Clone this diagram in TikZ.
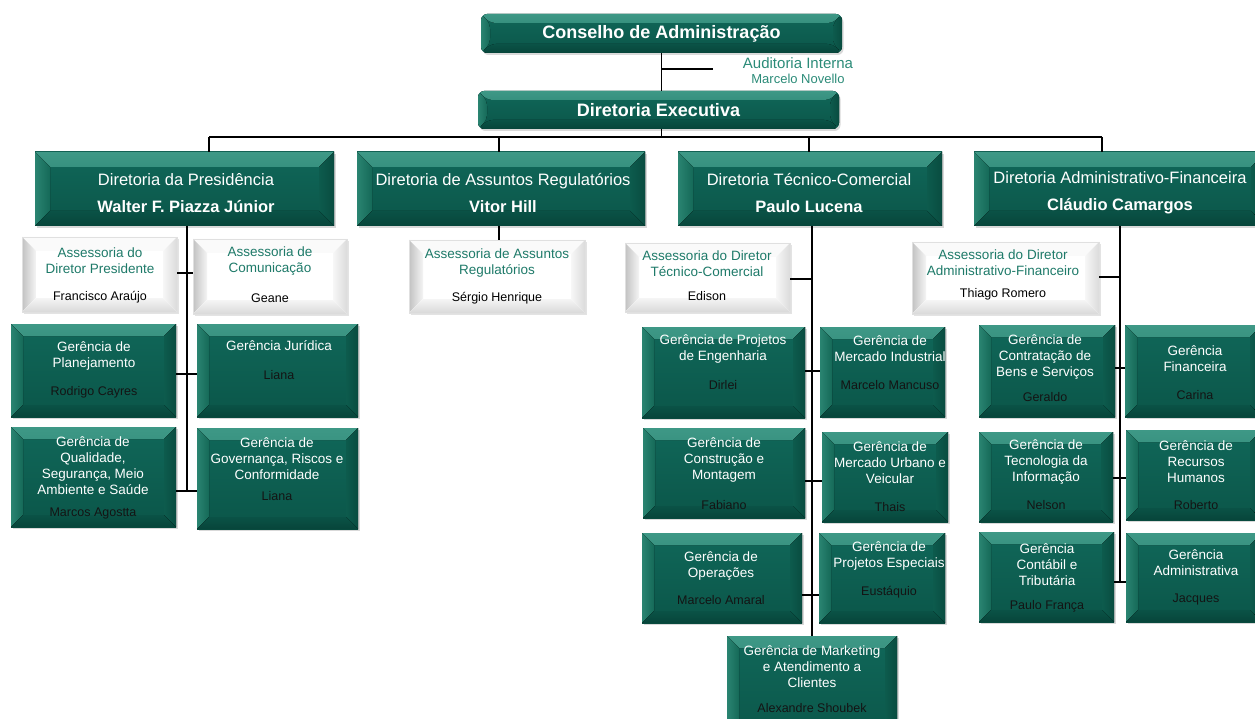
\documentclass[tikz,border=0pt]{standalone}
\usepackage{fontspec}
\setmainfont{Liberation Sans}
\usetikzlibrary{shadows}
\definecolor{gfaceA}{HTML}{106759}
\definecolor{gfaceB}{HTML}{0B5649}
\definecolor{gbevT1}{HTML}{3E9886}
\definecolor{gbevT2}{HTML}{1E7565}
\definecolor{gbevL1}{HTML}{2A8471}
\definecolor{gbevL2}{HTML}{156958}
\definecolor{gbevR1}{HTML}{0D5B4D}
\definecolor{gbevR2}{HTML}{094C40}
\definecolor{gbevB1}{HTML}{0A5246}
\definecolor{gbevB2}{HTML}{07453A}
\definecolor{tealtxt}{HTML}{1E7A69}
\definecolor{audtxt}{HTML}{2B8B78}
\definecolor{nametxt}{HTML}{141414}

\newcommand{\bevelpic}[5]{%
  \fill[#2] (path picture bounding box.north west) -- (path picture bounding box.north east)
     -- ([shift={(-#1,#1)}]path picture bounding box.north east) -- ([shift={(#1,#1)}]path picture bounding box.north west) -- cycle;
  \fill[#3] (path picture bounding box.north west) -- ([shift={(#1,#1)}]path picture bounding box.north west)
     -- ([shift={(#1,-#1)}]path picture bounding box.south west) -- (path picture bounding box.south west) -- cycle;
  \fill[#4] (path picture bounding box.north east) -- ([shift={(-#1,#1)}]path picture bounding box.north east)
     -- ([shift={(-#1,-#1)}]path picture bounding box.south east) -- (path picture bounding box.south east) -- cycle;
  \fill[#5] (path picture bounding box.south west) -- ([shift={(#1,-#1)}]path picture bounding box.south west)
     -- ([shift={(-#1,-#1)}]path picture bounding box.south east) -- (path picture bounding box.south east) -- cycle;
}

\tikzset{
  every node/.style={inner sep=0pt, outer sep=0pt},
  gbox/.style={rectangle, top color=gfaceA, bottom color=gfaceB,
     drop shadow={shadow xshift=1.5pt, shadow yshift=-2pt, opacity=0.3},
     path picture={\bevelpic{#1}{top color=gbevT1, bottom color=gbevT2}{left color=gbevL1, right color=gbevL2}{left color=gbevR1, right color=gbevR2}{top color=gbevB1, bottom color=gbevB2}}},
  gbox/.default=12,
  topbox/.style={rectangle, rounded corners=6pt, top color=gfaceA, bottom color=gfaceB,
     drop shadow={shadow xshift=1.5pt, shadow yshift=-2pt, opacity=0.3},
     path picture={\bevelpic{9}{top color=gbevT1, bottom color=gbevT2}{left color=gbevL1, right color=gbevL2}{left color=gbevR1, right color=gbevR2}{top color=gbevB1, bottom color=gbevB2}},
     text=white, font=\fontsize{18}{22}\selectfont\bfseries},
  dirbox/.style={gbox=15},
  dirtxt/.style={text=white, align=center, font=\fontsize{16.5}{27}\selectfont},
  wbox/.style={rectangle, fill=white, draw=black!12, line width=0.4pt,
     drop shadow={shadow xshift=1.5pt, shadow yshift=-2pt, opacity=0.22},
     path picture={\bevelpic{14}{black!2}{left color=black!24, right color=black!4}{left color=black!3, right color=black!14}{top color=black!4, bottom color=black!15}}},
  conn/.style={draw=black, line width=1.2pt},
  gttl/.style={text=white, align=center, font=\fontsize{13.5}{16}\selectfont},
  gnm/.style={text=nametxt, align=center, font=\fontsize{12.5}{15}\selectfont},
  wttl/.style={text=tealtxt, align=center, font=\fontsize{13.5}{16}\selectfont},
  wnm/.style={text=black, align=center, font=\fontsize{12.5}{15}\selectfont},
}

% box: style, name, x1, y1, x2, y2, text
\newcommand{\bx}[7]{\node[#1, minimum width={(#5-#3)*1pt}, minimum height={(#6-#4)*1pt}] (#2) at ({(#3+#5)/2},{(#4+#6)/2}) {#7};}

\begin{document}
\begin{tikzpicture}[x=1pt, y=-1pt]
\useasboundingbox (0,0) rectangle (1255,719);
\clip (0,0) rectangle (1255,719);

% ---------- boxes ----------
\bx{topbox}{cons}{481}{14}{842}{53}{Conselho de Administração}
\bx{topbox}{exe}{478}{91}{839}{129}{Diretoria Executiva}

\bx{dirbox}{pres}{35}{152}{334}{226}{}
\bx{dirbox}{reg}{357}{152}{645}{226}{}
\bx{dirbox}{tec}{678}{152}{942}{226}{}
\bx{dirbox}{adm}{974}{152}{1266}{226}{}

\bx{wbox}{asp}{22}{237}{177}{312}{}
\bx{wbox}{com}{193}{239}{347}{314}{}
\bx{wbox}{asr}{409}{240}{585}{313}{}
\bx{wbox}{ast}{625}{243}{790}{312}{}
\bx{wbox}{asa}{912}{242}{1099}{314}{}

\bx{gbox}{plan}{11}{324}{176}{417}{}
\bx{gbox}{jur}{197}{324}{358}{417}{}
\bx{gbox}{qual}{11}{427}{176}{527}{}
\bx{gbox}{gov}{197}{428}{358}{529}{}

\bx{gbox}{eng}{642}{327}{805}{418}{}
\bx{gbox}{mind}{820}{327}{945}{417}{}
\bx{gbox}{con}{643}{428}{805}{518}{}
\bx{gbox}{murb}{822}{432}{948}{522}{}
\bx{gbox}{ope}{642}{533}{802}{623}{}
\bx{gbox}{pesp}{819}{533}{945}{623}{}
\bx{gbox}{mkt}{727}{636}{897}{745}{}

\bx{gbox}{contr}{979}{325}{1115}{417}{}
\bx{gbox}{fin}{1125}{325}{1262}{417}{}
\bx{gbox}{tecn}{979}{432}{1113}{522}{}
\bx{gbox}{rh}{1126}{430}{1262}{520}{}
\bx{gbox}{cont}{979}{532}{1114}{622}{}
\bx{gbox}{admi}{1126}{533}{1262}{622}{}

% ---------- texts ----------
\node[text=audtxt, font=\fontsize{15}{17}\selectfont] (aud) at (798,63) {Auditoria Interna};
\node[text=audtxt, font=\fontsize{13}{15}\selectfont] (audn) at (798,79) {Marcelo Novello};

\node[dirtxt] (pres-t) at (186,193) {Diretoria da Presidência\\\textbf{Walter F. Piazza Júnior}};
\node[dirtxt] (reg-t) at (503,193) {Diretoria de Assuntos Regulatórios\\\textbf{Vitor Hill}};
\node[dirtxt] (tec-t) at (809,193) {Diretoria Técnico-Comercial\\\textbf{Paulo Lucena}};
\node[dirtxt] (adm-t) at (1120,193) {Diretoria Administrativo-Financeira\\\textbf{Cláudio Camargos}};

\node[wttl] (asp-t) at (100,261) {Assessoria do\\Diretor Presidente};
\node[wnm] (asp-n) at (100,297) {Francisco Araújo};
\node[wttl] (com-t) at (270,261) {Assessoria de\\Comunicação};
\node[wnm] (com-n) at (270,298) {Geane};
\node[wttl] (asr-t) at (497,263) {Assessoria de Assuntos\\Regulatórios};
\node[wnm] (asr-n) at (497,298) {Sérgio Henrique};
\node[wttl] (ast-t) at (707,264) {Assessoria do Diretor\\Técnico-Comercial};
\node[wnm] (ast-n) at (707,296) {Edison};
\node[wttl] (asa-t) at (1003,263) {Assessoria do Diretor\\Administrativo-Financeiro};
\node[wnm] (asa-n) at (1003,294) {Thiago Romero};

\node[gttl] (plan-t) at (94,356) {Gerência de\\Planejamento};
\node[gnm] (plan-n) at (94,392) {Rodrigo Cayres};
\node[gttl] (jur-t) at (279,346) {Gerência Jurídica};
\node[gnm] (jur-n) at (279,375) {Liana};
\node[gttl] (qual-t) at (93,466) {Gerência de\\Qualidade,\\Segurança, Meio\\Ambiente e Saúde};
\node[gnm] (qual-n) at (93,513) {Marcos Agostta};
\node[gttl] (gov-t) at (277,459) {Gerência de\\Governança, Riscos e\\Conformidade};
\node[gnm] (gov-n) at (277,496) {Liana};

\node[gttl] (eng-t) at (723,349) {Gerência de Projetos\\de Engenharia};
\node[gnm] (eng-n) at (723,385) {Dirlei};
\node[gttl] (mind-t) at (890,349) {Gerência de\\Mercado Industrial};
\node[gnm] (mind-n) at (890,385) {Marcelo Mancuso};
\node[gttl] (con-t) at (724,460) {Gerência de\\Construção e\\Montagem};
\node[gnm] (con-n) at (724,505) {Fabiano};
\node[gttl] (murb-t) at (890,463) {Gerência de\\Mercado Urbano e\\Veicular};
\node[gnm] (murb-n) at (890,507) {Thais};
\node[gttl] (ope-t) at (721,566) {Gerência de\\Operações};
\node[gnm] (ope-n) at (721,600) {Marcelo Amaral};
\node[gttl] (pesp-t) at (889,556) {Gerência de\\Projetos Especiais};
\node[gnm] (pesp-n) at (889,592) {Eustáquio};
\node[gttl] (mkt-t) at (812,667) {Gerência de Marketing\\e Atendimento a\\Clientes};
\node[gnm] (mkt-n) at (812,708) {Alexandre Shoubek};

\node[gttl] (contr-t) at (1045,357) {Gerência de\\Contratação de\\Bens e Serviços};
\node[gnm] (contr-n) at (1045,397) {Geraldo};
\node[gttl] (fin-t) at (1195,359) {Gerência\\Financeira};
\node[gnm] (fin-n) at (1195,395) {Carina};
\node[gttl] (tecn-t) at (1046,462) {Gerência de\\Tecnologia da\\Informação};
\node[gnm] (tecn-n) at (1046,505) {Nelson};
\node[gttl] (rh-t) at (1196,462) {Gerência de\\Recursos\\Humanos};
\node[gnm] (rh-n) at (1196,505) {Roberto};
\node[gttl] (cont-t) at (1047,565) {Gerência\\Contábil e\\Tributária};
\node[gnm] (cont-n) at (1047,606) {Paulo França};
\node[gttl] (admi-t) at (1196,563) {Gerência\\Administrativa};
\node[gnm] (admi-n) at (1196,599) {Jacques};

% ---------- connectors ----------
\coordinate (hl) at (0,137);
\coordinate (dp) at (209,137);
\coordinate (dr) at (499,137);
\coordinate (dt) at (809,137);
\coordinate (da) at (1102,137);
\coordinate (audj) at (713,69);
\draw[conn] (cons.south) -- (cons.south |- exe.north);
\draw[conn] (cons.south |- audj) -- (audj);
\draw[conn] (cons.south |- exe.south) -- (cons.south |- hl);
\draw[conn] (dp) -- (da);
\draw[conn] (dp) -- (dp |- pres.north);
\draw[conn] (dr) -- (dr |- reg.north);
\draw[conn] (dt) -- (dt |- tec.north);
\draw[conn] (da) -- (da |- adm.north);

% presidencia
\coordinate (pj1) at (187,273);
\coordinate (pj2) at (187,374);
\coordinate (pj3) at (187,491);
\draw[conn] (pj1 |- pres.south) -- (pj3);
\draw[conn] (asp.east |- pj1) -- (com.west |- pj1);
\draw[conn] (plan.east |- pj2) -- (jur.west |- pj2);
\draw[conn] (qual.east |- pj3) -- (gov.west |- pj3);

% regulatorios
\draw[conn] (dr |- reg.south) -- (dr |- asr.north);

% tecnico-comercial
\coordinate (tj1) at (812,279);
\coordinate (tj2) at (812,371);
\coordinate (tj3) at (812,481);
\coordinate (tj4) at (812,595);
\draw[conn] (mkt.north |- tec.south) -- (mkt.north);
\draw[conn] (ast.east |- tj1) -- (tj1);
\draw[conn] (eng.east |- tj2) -- (mind.west |- tj2);
\draw[conn] (con.east |- tj3) -- (murb.west |- tj3);
\draw[conn] (ope.east |- tj4) -- (pesp.west |- tj4);

% administrativo-financeira
\coordinate (aj1) at (1120,277);
\coordinate (aj2) at (1120,368);
\coordinate (aj3) at (1120,478);
\coordinate (aj4) at (1120,582);
\draw[conn] (aj1 |- adm.south) -- (aj4);
\draw[conn] (asa.east |- aj1) -- (aj1);
\draw[conn] (contr.east |- aj2) -- (fin.west |- aj2);
\draw[conn] (tecn.east |- aj3) -- (rh.west |- aj3);
\draw[conn] (cont.east |- aj4) -- (admi.west |- aj4);
\end{tikzpicture}
\end{document}
